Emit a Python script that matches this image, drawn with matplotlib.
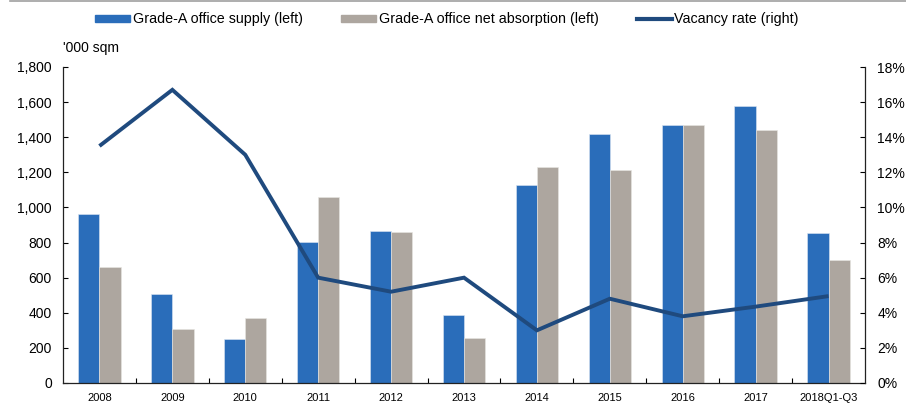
import matplotlib
matplotlib.use("Agg")
import matplotlib.pyplot as plt
from matplotlib.patches import Patch
from matplotlib.lines import Line2D
from matplotlib.ticker import FuncFormatter, FixedLocator
import numpy as np

categories = ["2008", "2009", "2010", "2011", "2012", "2013", "2014", "2015", "2016", "2017", "2018Q1-Q3"]
supply = [960, 505, 250, 803, 865, 390, 1130, 1418, 1470, 1578, 856]
absorption = [660, 305, 368, 1058, 862, 255, 1230, 1214, 1468, 1443, 700]
vacancy = [13.5, 16.7, 13.0, 6.0, 5.2, 6.0, 3.0, 4.8, 3.8, 4.35, 4.95]

series_labels = ["Grade-A office supply (left)", "Grade-A office net absorption (left)", "Vacancy rate (right)"]

plt.rcParams['font.family'] = ['Liberation Sans', 'DejaVu Sans']

c_supply = "#2A6DBA"
c_abs = "#ADA69F"
c_line = "#1F4A7E"

fig = plt.figure(figsize=(9.06, 4.03), dpi=100)
ax = fig.add_axes([63/906, 20/403, (865-63)/906, (383-67)/403])
ax2 = ax.twinx()

x = np.arange(len(categories))
w = 0.29
ax.bar(x - w/2, supply, width=w, color=c_supply, edgecolor='#DCE6F2', linewidth=0.4, zorder=2)
ax.bar(x + w/2, absorption, width=w, color=c_abs, edgecolor='#E8E6E2', linewidth=0.4, zorder=2)
ax2.plot(x, vacancy, color=c_line, linewidth=2.8, solid_capstyle='butt', solid_joinstyle='miter')

ax.set_xlim(-0.5, len(categories) - 0.5)
ax.set_ylim(0, 1800)
ax2.set_ylim(0, 18)

ax.set_yticks(np.arange(0, 1801, 200))
ax.yaxis.set_major_formatter(FuncFormatter(lambda v, p: f"{int(v):,}"))
ax2.set_yticks(np.arange(0, 19, 2))
ax2.yaxis.set_major_formatter(FuncFormatter(lambda v, p: f"{int(v)}%"))

ax.set_xticks(x)
ax.set_xticklabels(categories, fontsize=8)
ax.xaxis.set_minor_locator(FixedLocator(np.arange(0.5, len(categories) - 1, 1)))
ax.tick_params(axis='x', which='major', length=0, pad=7)
ax.tick_params(axis='x', which='minor', length=3.5, direction='in', width=0.8)
ax.tick_params(axis='y', which='major', length=3.5, direction='in', width=0.8, labelsize=10, pad=8)
ax2.tick_params(axis='y', which='major', length=3.5, direction='in', width=0.8, labelsize=10, pad=9)

for a in (ax, ax2):
    a.spines['top'].set_visible(False)
    for s in ('left', 'right', 'bottom'):
        a.spines[s].set_linewidth(0.9)
        a.spines[s].set_color('#222222')
ax.spines['right'].set_visible(False)
ax2.spines['left'].set_visible(False)
ax2.spines['bottom'].set_visible(False)

fig.text(63/906, 1 - 48/403, "'000 sqm", fontsize=10, va='center', ha='left')

handles = [Patch(color=c_supply), Patch(color=c_abs), Line2D([0], [0], color=c_line, linewidth=3)]
fig.legend(handles, series_labels, loc='center left', bbox_to_anchor=(95/906, 1 - 19.5/403), ncol=3,
           frameon=False, fontsize=10.3, borderpad=0, borderaxespad=0,
           handlelength=2.45, handleheight=0.33, handletextpad=0.2, columnspacing=2.65)

fig.add_artist(Line2D([10/906, 1], [1 - 1/403, 1 - 1/403], color='#A0A0A0', linewidth=1.2, transform=fig.transFigure))

fig.savefig("out.png", dpi=100)
